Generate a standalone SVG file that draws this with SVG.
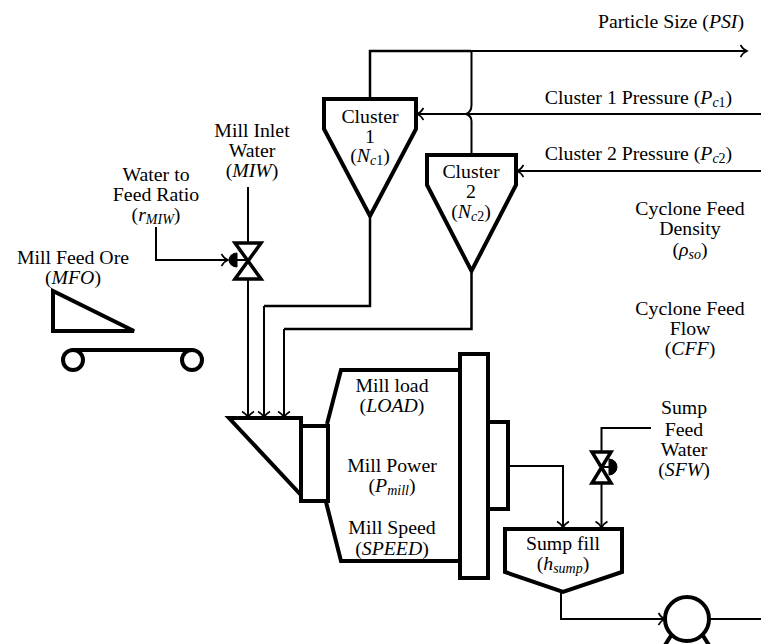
<svg xmlns="http://www.w3.org/2000/svg" width="761" height="644" viewBox="0 0 761 644">
<style>
text{font-family:"Liberation Serif","Times New Roman",serif;font-size:19.800px;fill:#000;text-anchor:middle}
.i{font-style:italic}
.s{font-size:14px}
.h{fill:#fff;stroke:#000;stroke-width:4;stroke-linejoin:miter}
.m{fill:#fff;stroke:#000;stroke-width:3.500}
.l{fill:none;stroke:#000;stroke-width:2}
.a{fill:none;stroke:#000;stroke-width:2;marker-end:url(#ah)}
.b{fill:none;stroke:#000;stroke-width:2.500}
</style>
<defs>
<marker id="ah" markerUnits="userSpaceOnUse" markerWidth="12" markerHeight="14" refX="10" refY="7" orient="auto">
<path d="M3.500 1Q6 5.500 10 7Q6 8.500 3.500 13" fill="none" stroke="#000" stroke-width="1.600"/>
</marker>
</defs>
<g id="connectors">
<path class="b" d="M370 99V51H471"/>
<path class="a" d="M471 51H747"/>
<path class="l" d="M471.500 51V105Q471.500 112 466 114Q471.500 116 471.500 121V155"/>
<path class="a" d="M761 114H417"/>
<path class="a" d="M761 171H517"/>
<path class="b" d="M370 218V306H264"/>
<path class="a" d="M264 306V418"/>
<path class="b" d="M471.500 273V329H284"/>
<path class="a" d="M284 329V418"/>
<path class="l" d="M248 187V243"/>
<path class="a" d="M248 279V418"/>
<path class="a" d="M156 227V260H228"/>
<path class="a" d="M508 466H563V528"/>
<path class="l" d="M651 428H601.500V452"/>
<path class="a" d="M601.500 483V528"/>
<path class="a" d="M561 592V619H665"/>
<path class="l" d="M710 619H761"/>
</g>
<g id="cluster1"><path class="h" d="M324 99H416V129L370 216L324 129Z"/>
<text x="370" y="123">Cluster</text><text x="370" y="143">1</text><text x="370" y="162">(<tspan class="i">N</tspan><tspan class="i s" dy="3">c</tspan><tspan class="s">1</tspan><tspan dy="-3">)</tspan></text></g>
<g id="cluster2"><path class="h" d="M427 155H516V185L471.500 271L427 185Z"/>
<text x="471" y="178">Cluster</text><text x="471" y="198">2</text><text x="471" y="218">(<tspan class="i">N</tspan><tspan class="i s" dy="3">c</tspan><tspan class="s">2</tspan><tspan dy="-3">)</tspan></text></g>
<g id="psi"><text x="671" y="28">Particle Size (<tspan class="i">PSI</tspan>)</text></g>
<g id="pc1"><text x="638.500" y="104">Cluster 1 Pressure (<tspan class="i">P</tspan><tspan class="i s" dy="3">c</tspan><tspan class="s">1</tspan><tspan dy="-3">)</tspan></text></g>
<g id="pc2"><text x="638.500" y="160">Cluster 2 Pressure (<tspan class="i">P</tspan><tspan class="i s" dy="3">c</tspan><tspan class="s">2</tspan><tspan dy="-3">)</tspan></text></g>
<g id="density"><text x="690" y="215">Cyclone Feed</text><text x="690" y="235">Density</text><text x="690" y="256">(<tspan class="i">ρ</tspan><tspan class="i s" dy="3">so</tspan><tspan dy="-3">)</tspan></text></g>
<g id="flow"><text x="690" y="315">Cyclone Feed</text><text x="690" y="335">Flow</text><text x="690" y="355">(<tspan class="i">CFF</tspan>)</text></g>
<g id="miw"><text x="252" y="137">Mill Inlet</text><text x="252" y="157">Water</text><text x="252" y="177">(<tspan class="i">MIW</tspan>)</text></g>
<g id="rmiw"><text x="156" y="181">Water to</text><text x="156" y="201">Feed Ratio</text><text x="156" y="221">(<tspan class="i">r</tspan><tspan class="i s" dy="3">MIW</tspan><tspan dy="-3">)</tspan></text></g>
<g id="mfo-label"><text x="73" y="264">Mill Feed Ore</text><text x="73" y="284">(<tspan class="i">MFO</tspan>)</text></g>
<g id="conveyor">
<path class="h" d="M53 291V331H134Z"/>
<path class="l" style="stroke-width:4" d="M73 350H192"/>
<circle class="h" cx="73" cy="360" r="10"/><circle class="h" cx="192" cy="360" r="10"/></g>
<g id="valve-miw"><path class="m" d="M235 243H261L235 279H261Z"/><path d="M237 253A8 7 0 0 0 237 267Z" fill="#000" stroke="#000"/><path class="l" d="M237 260H248"/></g>
<g id="valve-sfw"><path class="m" d="M592 452H611L592 483H611Z"/><path d="M609 459A8 8 0 0 1 609 475Z" fill="#000" stroke="#000"/><path class="l" d="M601 467H610"/></g>
<g id="mill">
<path class="h" d="M301 418H229L301 495Z"/>
<rect class="h" x="301" y="426" width="27" height="75"/>
<path class="h" style="fill:none" d="M327 424L341 370H460"/>
<path class="h" style="fill:none" d="M326 502L341 561H460"/>
<rect class="h" x="460" y="354" width="28" height="224"/>
<rect class="h" x="488" y="422" width="20" height="87"/>
<text x="392" y="392">Mill load</text><text x="392" y="412">(<tspan class="i">LOAD</tspan>)</text>
<text x="392" y="472">Mill Power</text><text x="392" y="492">(<tspan class="i">P</tspan><tspan class="i s" dy="3">mill</tspan><tspan dy="-3">)</tspan></text>
<text x="392" y="534">Mill Speed</text><text x="392" y="555">(<tspan class="i">SPEED</tspan>)</text></g>
<g id="sfw"><text x="684" y="414">Sump</text><text x="684" y="436">Feed</text><text x="684" y="456">Water</text><text x="684" y="476">(<tspan class="i">SFW</tspan>)</text></g>
<g id="sump"><path class="h" d="M505 529H622V572L563 592L505 572Z"/>
<text x="563" y="550">Sump fill</text><text x="563" y="570">(<tspan class="i">h</tspan><tspan class="i s" dy="3">sump</tspan><tspan dy="-3">)</tspan></text></g>
<g id="pump"><path class="h" d="M672 634L662 650H712L702 634"/><circle class="h" cx="687" cy="619" r="22"/></g>
</svg>
